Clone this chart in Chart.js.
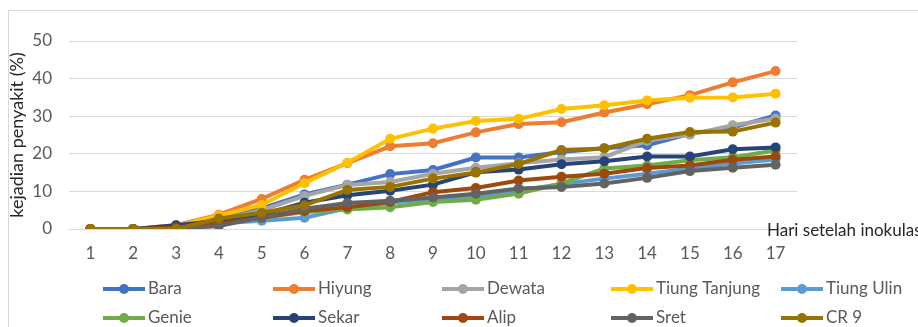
<!DOCTYPE html>
<html>
<head>
<meta charset="utf-8">
<script src="https://cdn.jsdelivr.net/npm/chart.js@4"></script>
<style>
  html, body { margin: 0; padding: 0; background: #fff; }
  #wrap { position: relative; width: 918px; height: 327px; }
</style>
</head>
<body>
<div id="wrap"><canvas id="chart"></canvas></div>
<script>
const days = ['1','2','3','4','5','6','7','8','9','10','11','12','13','14','15','16','17'];
const yTicks = [0, 10, 20, 30, 40, 50];

const bara         = [0, 0, 0.5, 2.5, 5.5, 9.2, 11.8, 14.6, 15.7, 19.0, 19.0, 20.5, 21.5, 22.3, 25.3, 27.0, 30.2];
const hiyung       = [0, 0, 1.0, 3.8, 8.0, 13.1, 17.5, 22.0, 22.8, 25.7, 27.9, 28.4, 31.0, 33.2, 35.6, 39.0, 42.0];
const dewata       = [0, 0, 0.5, 2.5, 5.0, 8.8, 11.7, 12.5, 14.7, 16.3, 17.5, 18.5, 19.1, 23.5, 25.1, 27.6, 29.4];
const tiungTanjung = [0, 0, 0.8, 3.6, 6.4, 12.2, 17.6, 24.0, 26.7, 28.7, 29.3, 31.9, 32.9, 34.2, 34.9, 35.0, 36.0];
const tiungUlin    = [0, 0, 0, 1.5, 2.2, 3.0, 5.5, 7.0, 8.0, 8.5, 10.2, 12.0, 13.4, 14.7, 16.1, 17.4, 18.5];
const genie        = [0, 0, 0, 1.5, 3.0, 4.5, 5.2, 5.8, 7.2, 7.8, 9.4, 12.1, 16.1, 16.9, 18.3, 19.1, 20.9];
const sekar        = [0, 0, 1.0, 2.2, 3.8, 7.0, 9.0, 10.2, 11.8, 15.1, 15.8, 17.2, 18.0, 19.3, 19.3, 21.2, 21.7];
const alip         = [0, 0, 0.3, 1.5, 3.0, 4.8, 5.8, 7.2, 9.8, 10.9, 12.9, 13.9, 14.7, 16.2, 16.9, 18.4, 19.3];
const sret         = [0, 0, 0, 0.8, 3.1, 5.4, 6.9, 7.5, 8.4, 9.4, 10.8, 11.2, 12.1, 13.6, 15.4, 16.3, 17.1];
const cr9          = [0, 0, 0, 2.8, 4.3, 6.3, 10.4, 11.2, 13.4, 15.0, 17.3, 21.0, 21.4, 24.0, 25.8, 25.9, 28.3];

const seriesNames = ['Bara', 'Hiyung', 'Dewata', 'Tiung Tanjung', 'Tiung Ulin', 'Genie', 'Sekar', 'Alip', 'Sret', 'CR 9'];
const seriesData = [bara, hiyung, dewata, tiungTanjung, tiungUlin, genie, sekar, alip, sret, cr9];
const seriesColors = ['#4472C4', '#ED7D31', '#A5A5A5', '#FFC000', '#5B9BD5', '#70AD47', '#264478', '#9E480E', '#636363', '#997300'];

const FONT = 'Lato, "Open Sans", sans-serif';
const GRID = '#D9D9D9';
const TEXT_GRAY = '#595959';

// excel draws later series on top, chart.js the other way round -> use order
const datasets = seriesNames.map((name, i) => ({
    label: name,
    data: seriesData[i],
    borderColor: seriesColors[i],
    backgroundColor: seriesColors[i],
    borderWidth: 4,
    pointRadius: 5,
    pointHoverRadius: 5,
    pointBorderWidth: 0,
    tension: 0,
    order: seriesNames.length - i
}));

// chart border + x title + legend in fixed columns
const decorations = {
    id: 'decorations',
    beforeDraw(chart) {
        const ctx = chart.ctx;
        ctx.save();
        ctx.strokeStyle = GRID;
        ctx.lineWidth = 1;
        ctx.strokeRect(8.5, 10.5, 1000, 1000);
        ctx.restore();
    },
    afterDraw(chart) {
        const ctx = chart.ctx;
        ctx.save();
        ctx.font = '17px ' + FONT;
        ctx.fillStyle = '#262626';
        ctx.textBaseline = 'middle';
        ctx.textAlign = 'left';
        ctx.fillText('Hari setelah inokulasi', 767, 231);

        const colX = [103, 273, 442, 611, 781];
        const rowY = [289, 318];
        chart.data.datasets.forEach((ds, i) => {
            const x = colX[i % 5];
            const y = rowY[Math.floor(i / 5)];
            ctx.strokeStyle = ds.borderColor;
            ctx.lineWidth = 4;
            ctx.beginPath();
            ctx.moveTo(x, y);
            ctx.lineTo(x + 42, y);
            ctx.stroke();
            ctx.fillStyle = ds.borderColor;
            ctx.beginPath();
            ctx.arc(x + 21, y, 5, 0, Math.PI * 2);
            ctx.fill();
            ctx.fillStyle = TEXT_GRAY;
            ctx.fillText(ds.label, x + 45, y);
        });
        ctx.restore();
    }
};

const ctx = document.getElementById('chart').getContext('2d');
new Chart(ctx, {
    type: 'line',
    data: { labels: days, datasets: datasets },
    options: {
        responsive: true,
        maintainAspectRatio: false,
        animation: false,
        layout: { padding: { left: 0, top: 41, right: 121, bottom: 0 } },
        plugins: {
            legend: { display: false },
            tooltip: { enabled: false }
        },
        scales: {
            x: {
                offset: true,
                grid: { display: false, drawTicks: false },
                border: { display: false },
                ticks: { color: TEXT_GRAY, font: { family: FONT, size: 17 }, padding: 14, maxRotation: 0, autoSkip: false },
                afterFit(scale) { scale.height = 98; }
            },
            y: {
                min: 0,
                max: 50,
                afterBuildTicks(scale) { scale.ticks = yTicks.map(v => ({ value: v })); },
                grid: { color: GRID, lineWidth: 1, drawTicks: false },
                border: { display: false },
                ticks: { color: TEXT_GRAY, font: { family: FONT, size: 17 }, padding: 17 },
                title: {
                    display: true,
                    text: 'kejadian penyakit (%)',
                    color: '#262626',
                    font: { family: FONT, size: 18 },
                    padding: { top: 6, bottom: 0 }
                },
                afterFit(scale) { scale.width = 69; }
            }
        }
    },
    plugins: [decorations]
});
</script>
</body>
</html>
